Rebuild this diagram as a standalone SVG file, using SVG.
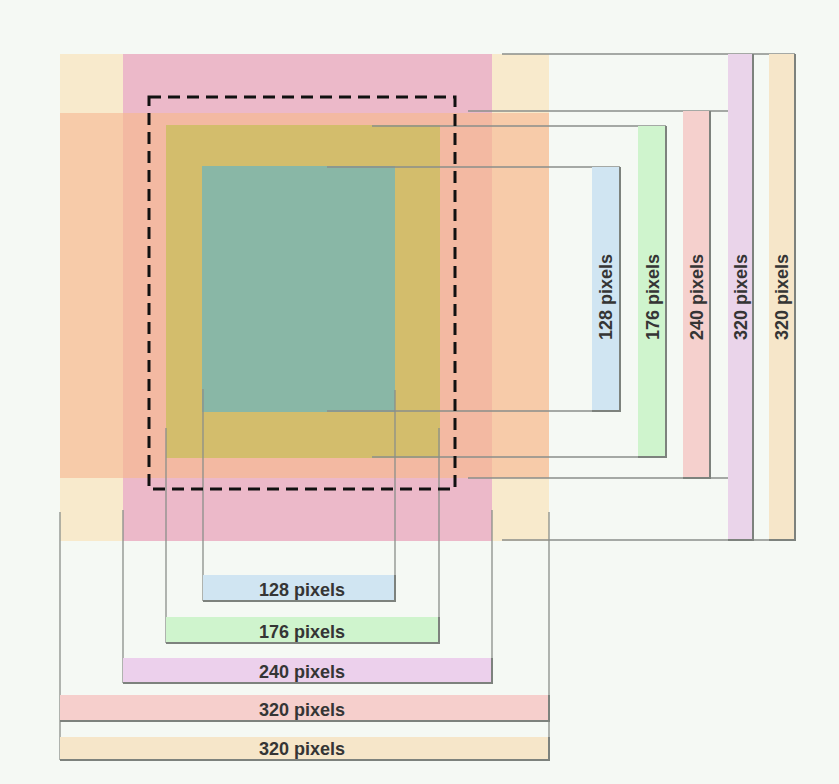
<svg xmlns="http://www.w3.org/2000/svg" width="839" height="784" viewBox="0 0 839 784">
<style>
.ln{stroke:#8a8f8a;stroke-width:1.3;fill:none}
.edge{stroke:#7d827d;stroke-width:2;fill:none}
.lbl{font-family:"Liberation Sans",Arial,sans-serif;font-weight:bold;font-size:18px;fill:#353535;text-anchor:middle}
.dash{fill:none;stroke:#111;stroke-width:3;stroke-dasharray:12 7}
</style>
<rect width="839" height="784" fill="#f5f9f4"/>
<g id="frame320">
<rect x="60" y="54" width="489" height="487" fill="#f8eacc"/>
</g>
<g id="pink240">
<rect x="123" y="54" width="369" height="487" fill="#ecb9c9"/>
</g>
<g id="peach320">
<rect x="60" y="113" width="489" height="365" fill="#f7cba9"/>
<rect x="123" y="113" width="369" height="365" fill="#f3b9a2"/>
</g>
<g id="olive176">
<rect x="166" y="125" width="274" height="333" fill="#d3bd6c"/>
</g>
<g id="teal128">
<rect x="202" y="166" width="193" height="246" fill="#89b7a6"/>
</g>
<g id="connectors">
<path class="ln" d="M502 54H795M468 111H753M372 126H666M327 167H620M327 411H620M372 457H666M468 478H753M502 540H795"/>
<path class="ln" d="M203 389V601M395 390V601M166 428V643M439 428V643M123 510V683M492 510V683M60 512V760M549 512V760"/>
</g>
<g id="viewport">
<rect class="dash" x="149" y="97" width="306" height="392"/>
</g>
<g id="v128">
<rect x="592" y="167" width="28" height="244" fill="#d0e5f2"/>
<path class="edge" d="M620 167V411H592"/>
<text class="lbl" transform="translate(612 297) rotate(-90)">128 pixels</text>
</g>
<g id="v176">
<rect x="638" y="126" width="28" height="331" fill="#cff4cd"/>
<path class="edge" d="M666 126V457H638"/>
<text class="lbl" transform="translate(659 297) rotate(-90)">176 pixels</text>
</g>
<g id="v240">
<rect x="683" y="111" width="27" height="367" fill="#f5d0cd"/>
<path class="edge" d="M710 111V478H683"/>
<text class="lbl" transform="translate(703 297) rotate(-90)">240 pixels</text>
</g>
<g id="v320a">
<rect x="728" y="54" width="25" height="486" fill="#ead4ea"/>
<path class="edge" d="M753 54V540H728"/>
<text class="lbl" transform="translate(747 297) rotate(-90)">320 pixels</text>
</g>
<g id="v320b">
<rect x="769" y="54" width="26" height="486" fill="#f6e6c9"/>
<path class="edge" d="M795 54V540H769"/>
<text class="lbl" transform="translate(788 297) rotate(-90)">320 pixels</text>
</g>
<g id="h128">
<rect x="203" y="575" width="192" height="26" fill="#d0e5f2"/>
<path class="edge" d="M203 601H395V575"/>
<text class="lbl" x="302" y="596">128 pixels</text>
</g>
<g id="h176">
<rect x="166" y="617" width="273" height="26" fill="#cff4cd"/>
<path class="edge" d="M166 643H439V617"/>
<text class="lbl" x="302" y="638">176 pixels</text>
</g>
<g id="h240">
<rect x="123" y="658" width="369" height="25" fill="#ecd0ec"/>
<path class="edge" d="M123 683H492V658"/>
<text class="lbl" x="302" y="678">240 pixels</text>
</g>
<g id="h320a">
<rect x="60" y="695" width="489" height="26" fill="#f6cfcc"/>
<path class="edge" d="M60 721H549V695"/>
<text class="lbl" x="302" y="716">320 pixels</text>
</g>
<g id="h320b">
<rect x="60" y="737" width="489" height="23" fill="#f6e6c9"/>
<path class="edge" d="M60 760H549V737"/>
<text class="lbl" x="302" y="755">320 pixels</text>
</g>
</svg>
